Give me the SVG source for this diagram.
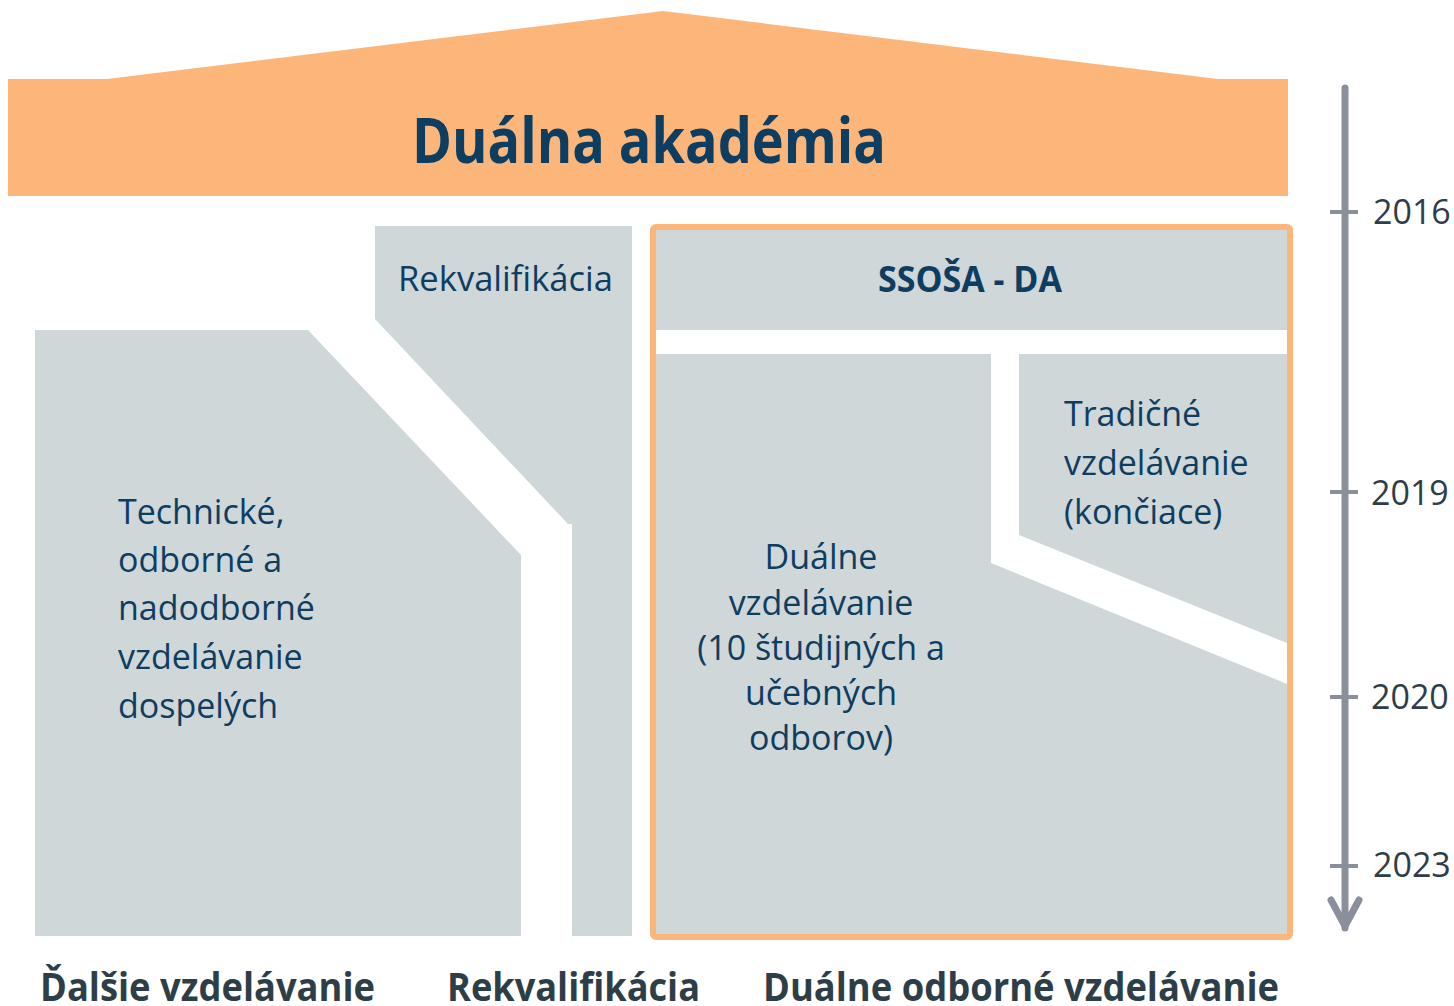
<svg xmlns="http://www.w3.org/2000/svg" width="1454" height="1006" viewBox="0 0 1454 1006">
<style>
.blk{fill:#cfd7d9}
.t{font-family:"Open Sans","Noto Sans",sans-serif;font-size:34px;fill:#0e3d62}
.tb{font-family:"Open Sans","Noto Sans",sans-serif;font-weight:bold;fill:#0e3d62}
.yr{font-family:"Open Sans","Noto Sans",sans-serif;font-size:34px;fill:#2e3e48}
.ft{font-family:"Open Sans","Noto Sans",sans-serif;font-weight:bold;font-size:40px;fill:#2e3e48}
.axis{stroke:#89909b;stroke-width:7;fill:none;stroke-linecap:round;stroke-linejoin:round}
.tick{stroke:#89909b;stroke-width:4}
</style>
<rect width="1454" height="1006" fill="#ffffff"/>
<g id="roof">
<polygon points="8,79 107,79 663,11 1218,79 1288,79 1288,196 8,196" fill="#fdb67a"/>
<text class="tb" x="649" y="163" font-size="62" text-anchor="middle" textLength="474" lengthAdjust="spacingAndGlyphs">Duálna akadémia</text>
</g>
<g id="dalsie">
<polygon class="blk" points="35,330 308,330 521,555 521,936 35,936"/>
<text class="t" x="118" y="524">Technické,</text>
<text class="t" x="118" y="572">odborné a</text>
<text class="t" x="118" y="620">nadodborné</text>
<text class="t" x="118" y="669">vzdelávanie</text>
<text class="t" x="118" y="718">dospelých</text>
</g>
<g id="rekvalifikacia">
<polygon class="blk" points="375,226 632,226 632,936 572,936 572,524 568,524 375,319"/>
<text class="t" x="398" y="291" textLength="215" lengthAdjust="spacingAndGlyphs">Rekvalifikácia</text>
</g>
<g id="ssosa">
<rect x="653" y="227" width="637" height="710" rx="3" fill="none" stroke="#fdb67a" stroke-width="6"/>
<rect class="blk" x="656" y="230" width="631" height="100"/>
<text class="tb" x="970" y="292" font-size="35" text-anchor="middle" textLength="184" lengthAdjust="spacingAndGlyphs">SSOŠA - DA</text>
</g>
<g id="dualne">
<polygon class="blk" points="656,354 991,354 991,563 1287,684 1287,934 656,934"/>
<text class="t" x="821" y="569" text-anchor="middle">Duálne</text>
<text class="t" x="821" y="615" text-anchor="middle">vzdelávanie</text>
<text class="t" x="821" y="660" text-anchor="middle">(10 študijných a</text>
<text class="t" x="821" y="705" text-anchor="middle">učebných</text>
<text class="t" x="821" y="750" text-anchor="middle">odborov)</text>
</g>
<g id="tradicne">
<polygon class="blk" points="1019,354 1287,354 1287,643 1019,535"/>
<text class="t" x="1064" y="426">Tradičné</text>
<text class="t" x="1064" y="475">vzdelávanie</text>
<text class="t" x="1064" y="524">(končiace)</text>
</g>
<g id="timeline">
<line class="axis" x1="1345" y1="88" x2="1345" y2="928"/>
<polyline class="axis" points="1331,900 1345,926 1359,900"/>
<line class="tick" x1="1330" y1="212" x2="1358" y2="212"/>
<line class="tick" x1="1330" y1="492" x2="1358" y2="492"/>
<line class="tick" x1="1330" y1="697" x2="1358" y2="697"/>
<line class="tick" x1="1330" y1="866" x2="1358" y2="866"/>
<text class="yr" x="1373" y="224">2016</text>
<text class="yr" x="1371" y="505">2019</text>
<text class="yr" x="1371" y="709">2020</text>
<text class="yr" x="1373" y="877">2023</text>
</g>
<g id="labels">
<text class="ft" x="40" y="1001" textLength="335" lengthAdjust="spacingAndGlyphs">Ďalšie vzdelávanie</text>
<text class="ft" x="447" y="1001" textLength="253" lengthAdjust="spacingAndGlyphs">Rekvalifikácia</text>
<text class="ft" x="763" y="1001" textLength="516" lengthAdjust="spacingAndGlyphs">Duálne odborné vzdelávanie</text>
</g>
</svg>
